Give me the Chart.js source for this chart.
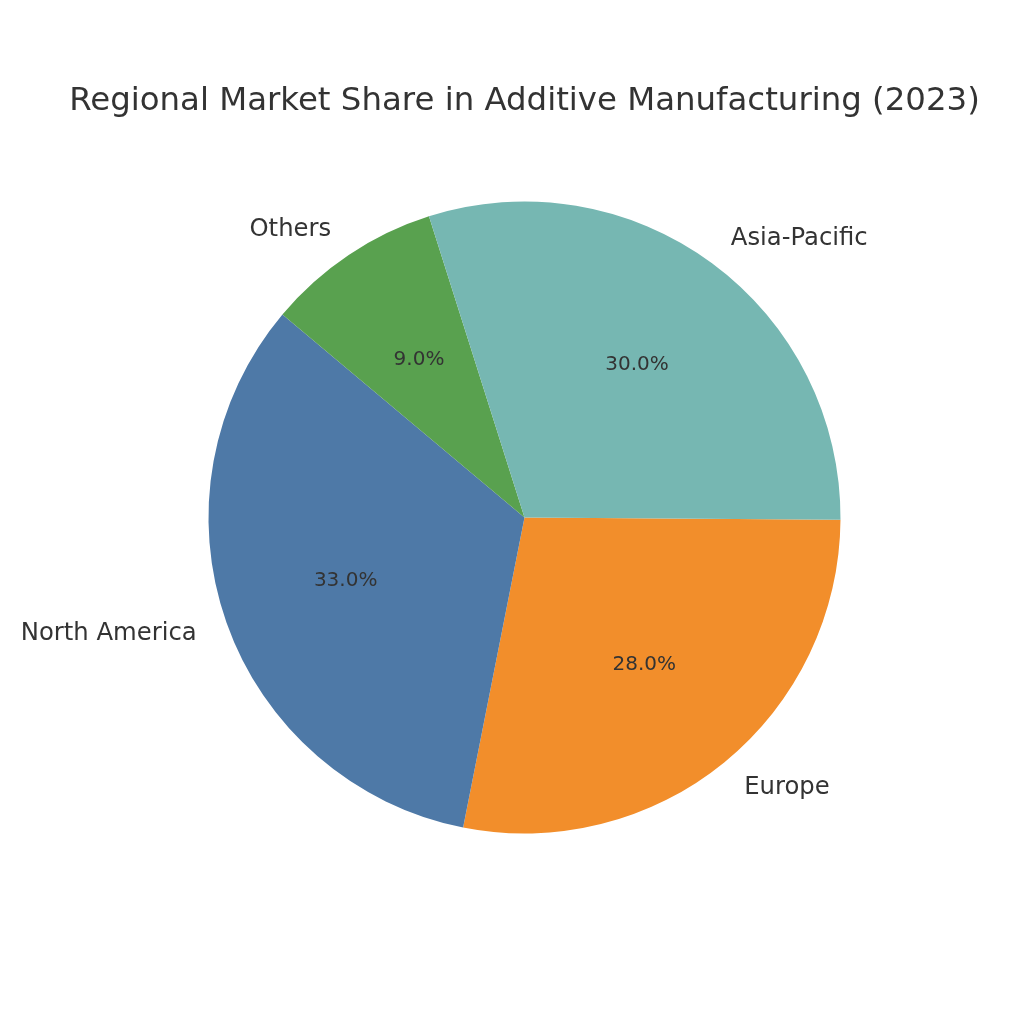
<!DOCTYPE html>
<html>
<head>
<meta charset="utf-8">
<script src="https://cdn.jsdelivr.net/npm/chart.js@4/dist/chart.umd.min.js"></script>
<style>
  html, body { margin: 0; padding: 0; background: #ffffff; }
  #wrap { width: 1024px; height: 1024px; position: relative; }
</style>
</head>
<body>
<div id="wrap"><canvas id="pie"></canvas></div>
<script>
// slices listed clockwise, starting at 3 o'clock
const regions = ['Europe', 'North America', 'Others', 'Asia-Pacific'];
const shares = [28, 33, 9, 30];
const sliceColors = ['#F28E2B', '#4E79A7', '#59A14F', '#76B7B2'];
const chartTitle = 'Regional Market Share in Additive Manufacturing (2023)';

const textColor = '#333333';
const fontFamily = "'DejaVu Sans', sans-serif";

// draws title, outer labels and percentages like matplotlib's pie
const pieText = {
  id: 'pieText',
  afterDraw(chart) {
    const ctx = chart.ctx;
    const arcs = chart.getDatasetMeta(0).data;
    const total = shares.reduce((a, b) => a + b, 0);

    ctx.save();
    ctx.fillStyle = textColor;

    ctx.font = '32.4px ' + fontFamily;
    ctx.textAlign = 'center';
    ctx.textBaseline = 'alphabetic';
    ctx.fillText(chartTitle, arcs[0].x, 110);

    arcs.forEach((arc, i) => {
      const mid = (arc.startAngle + arc.endAngle) / 2;
      const r = arc.outerRadius;
      const cos = Math.cos(mid), sin = Math.sin(mid);

      ctx.font = '24.3px ' + fontFamily;
      ctx.textBaseline = 'middle';
      ctx.textAlign = cos >= 0 ? 'left' : 'right';
      ctx.fillText(regions[i], arc.x + 1.1 * r * cos, arc.y + 1.1 * r * sin + 1);

      ctx.font = '20px ' + fontFamily;
      ctx.textAlign = 'center';
      const pct = (shares[i] / total * 100).toFixed(1) + '%';
      ctx.fillText(pct, arc.x + 0.6 * r * cos, arc.y + 0.6 * r * sin);
    });
    ctx.restore();
  }
};

new Chart(document.getElementById('pie'), {
  type: 'pie',
  data: {
    labels: regions,
    datasets: [{
      data: shares,
      backgroundColor: sliceColors,
      borderWidth: 0,
      hoverOffset: 0,
      offset: 0
    }]
  },
  options: {
    responsive: true,
    maintainAspectRatio: false,
    animation: false,
    events: [],
    rotation: 90.4,
    layout: {
      padding: { left: 208.5, top: 201.5, right: 183.5, bottom: 190.5 }
    },
    plugins: {
      legend: { display: false },
      tooltip: { enabled: false },
      title: { display: false }
    }
  },
  plugins: [pieText]
});
</script>
</body>
</html>
